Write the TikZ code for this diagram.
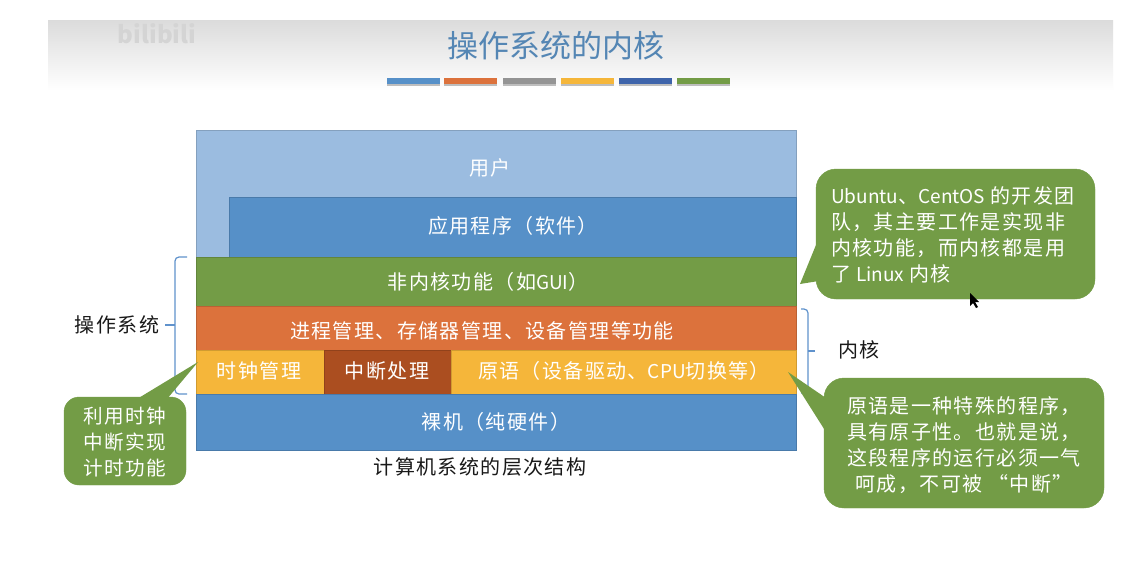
\documentclass[tikz,border=0pt]{standalone}
\usepackage{fontspec}
\setmainfont{Noto Sans CJK SC}[LetterSpace=7]
\newfontfamily\plainfont{Noto Sans CJK SC}
\newcommand{\lat}[1]{{\plainfont\fontsize{19}{26}\selectfont #1}}
\usetikzlibrary{shadows}
\definecolor{myblue}{RGB}{86, 144, 200}
\definecolor{mylight}{RGB}{155, 188, 224}
\definecolor{mygreen}{RGB}{115, 156, 70}
\definecolor{myorange}{RGB}{220, 114, 60}
\definecolor{myyellow}{RGB}{245, 182, 58}
\definecolor{mybrown}{RGB}{171, 78, 32}
\definecolor{mygray}{RGB}{148, 148, 148}
\definecolor{mynavy}{RGB}{62, 100, 170}
\definecolor{mytitle}{RGB}{84, 134, 180}
\definecolor{mybrace}{RGB}{96, 146, 204}
\tikzset{
  layer/.style={draw=#1!85!black,line width=0.6,fill=#1},
  laytext/.style={text=white,font=\fontsize{20}{24}\selectfont},
  note/.style={fill=mygreen,draw=mygreen,rounded corners=#1},
  notetext/.style={text=white,font=\fontsize{20}{26}\selectfont},
  plain/.style={text=black!90,font=\fontsize{20}{24}\selectfont},
  brace/.style={draw=mybrace,line width=1.2,rounded corners=4},
}
\begin{document}
\begin{tikzpicture}[x=1pt,y=-1pt]
\useasboundingbox (0,0) rectangle (1143,587);
\fill[white] (0,0) rectangle (1143,587);
%title band
\shade[top color=black!14,bottom color=white] (48,20) rectangle (1113,90);
\node[text=black!17,font=\plainfont\bfseries\fontsize{24}{26}\selectfont] (mark) at (157,34) {bilibili};
\node[text=mytitle,font=\plainfont\fontsize{31}{32}\selectfont] (title) at (556,46) {操作系统的内核};
\foreach \xa/\col in {387/myblue,444/myorange,503/mygray,561/myyellow,619/mynavy,677/mygreen}{
 \fill[color=\col,drop shadow={shadow xshift=0pt,shadow yshift=-2pt,opacity=0.5}] (\xa,78) rectangle +(53,6);
}
%layers
\draw[layer=mylight] (196,130) rectangle (796,257);
\node[laytext] (user) at (490,168) {用户};
\draw[layer=myblue] (229,197) rectangle (796,257);
\node[laytext] (app) at (513,226) {应用程序（软件）};
\draw[layer=mygreen] (196,257) rectangle (796,306);
\node[laytext] (nonkernel) at (488,282) {非内核功能（如\lat{GUI}）};
\draw[layer=myorange] (196,306) rectangle (796,350);
\node[laytext] (process) at (482,331) {进程管理、存储器管理、设备管理等功能};
\draw[layer=myyellow] (196,350) rectangle (324,394);
\node[laytext] (clock) at (259,371) {时钟管理};
\draw[layer=mybrown] (324,350) rectangle (451,394);
\node[laytext] (interrupt) at (387,371) {中断处理};
\draw[layer=myyellow] (451,350) rectangle (796,394);
\node[laytext] (atomic) at (624,371) {原语（设备驱动、\lat{CPU}切换等）};
\draw[layer=myblue] (196,394) rectangle (796,450);
\node[laytext] (bare) at (496,422) {裸机（纯硬件）};
\node[plain] (caption) at (480,467) {计算机系统的层次结构};
%braces
\node[plain] (os) at (117,325) {操作系统};
\node[plain] (kernel) at (859,350) {内核};
\coordinate (BL1) at (187,257);
\coordinate (BL2) at (187,394);
\coordinate (BLm) at (175,325);
\draw[brace] (BL1) -- (175,257) -- (175,394) -- (BL2);
\draw[brace] (BLm) -- (165,325);
\coordinate (BR1) at (801,309);
\coordinate (BR2) at (801,393);
\coordinate (BRm) at (808,351);
\draw[brace] (BR1) -- (808,309) -- (808,393) -- (BR2);
\draw[brace] (BRm) -- (815,351);
%callouts
\coordinate (T1) at (800,284);
\coordinate (T2) at (788,372);
\coordinate (T3) at (198,362);
\fill[mygreen] (T1) -- (818,240) -- (825,280) --cycle;
\fill[mygreen] (T2) -- (826,398) -- (826,432) --cycle;
\fill[mygreen] (T3) -- (137,399) -- (167,399) --cycle;
\draw[note=20] (816,169) rectangle (1095,299);
\draw[note=20] (824,378) rectangle (1104,508);
\draw[note=15] (64,397) rectangle (186,485);
\node[notetext,align=left,anchor=west,inner sep=0] (noteA) at (831,235) {\lat{Ubuntu}、\lat{CentOS}\hspace{5pt}的开发团\\队，其主要工作是实现非\\内核功能，而内核都是用\\了\hspace{5pt}\lat{Linux}\hspace{5pt}内核};
\node[notetext,align=center] (noteB) at (964,445) {原语是一种特殊的程序，\\具有原子性。也就是说，\\这段程序的运行必须一气\\呵成，不可被 “中断”};
\node[notetext,align=center,font=\fontsize{19.6}{26}\selectfont] (noteC) at (125,442) {利用时钟\\中断实现\\计时功能};
%mouse pointer
\fill[black] (970,293) -- (970,306) -- (973,303) -- (976,308) -- (978,307) -- (975,302) -- (979,302) --cycle;
\end{tikzpicture}
\end{document}
